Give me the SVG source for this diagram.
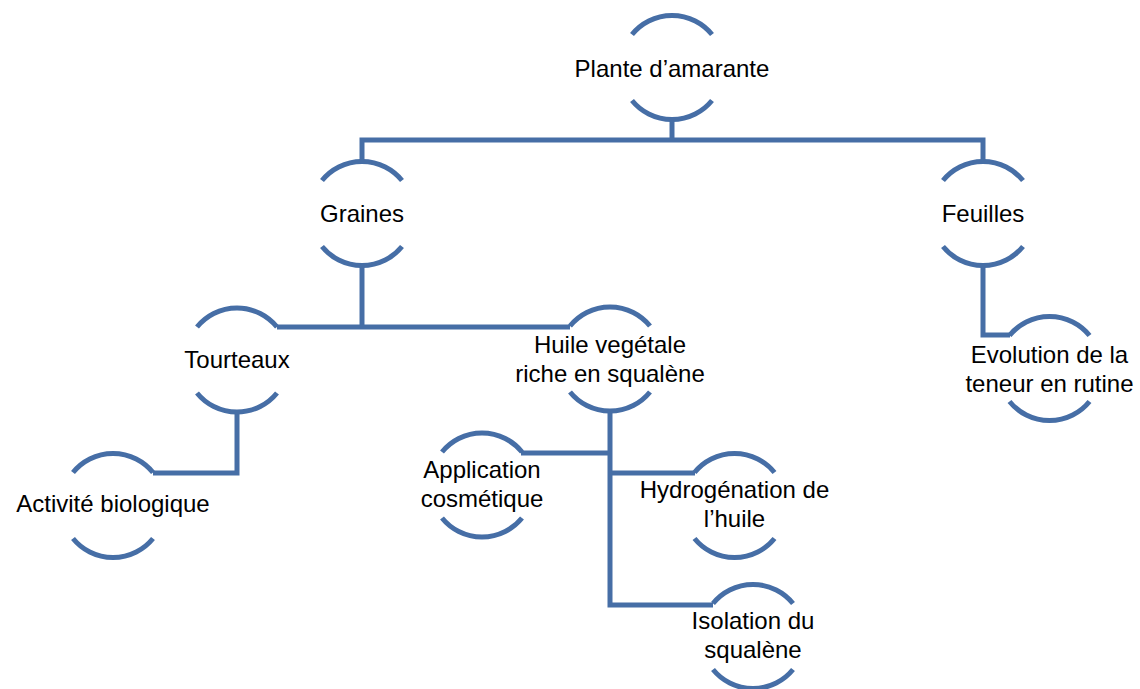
<svg xmlns="http://www.w3.org/2000/svg" xmlns:xlink="http://www.w3.org/1999/xlink" width="1140" height="689" viewBox="0 0 1140 689">
<style>
.arc{fill:none;stroke:#466EA6;stroke-width:5}
.con{fill:none;stroke:#466EA6;stroke-width:5;stroke-linejoin:miter;stroke-linecap:butt}
.lbl{font-family:"Liberation Sans",Arial,sans-serif;font-size:24px;fill:#000;text-anchor:middle}
</style>
<defs>
<g id="ring">
<path class="arc" d="M-40,-33 A51.5,51.5 0 0 1 40,-33"/>
<path class="arc" d="M-40,33 A51.5,51.5 0 0 0 40,33"/>
</g>
</defs>
<rect width="1140" height="689" fill="#fff"/>
<g id="connectors">
<polyline class="con" points="672,118 672,140"/>
<polyline class="con" points="362,162 362,140 983,140 983,162"/>
<polyline class="con" points="362,265 362,327"/>
<polyline class="con" points="277,327 570,327"/>
<polyline class="con" points="983,265 983,335 1010,335"/>
<polyline class="con" points="237,412 237,473 153,473"/>
<polyline class="con" points="610,410 610,605 713,605"/>
<polyline class="con" points="521,453 610,453"/>
<polyline class="con" points="610,473 695,473"/>
</g>
<g id="n-plante"><use xlink:href="#ring" x="672" y="67.5"/><text class="lbl" x="672" y="77">Plante d’amarante</text></g>
<g id="n-graines"><use xlink:href="#ring" x="362" y="213.5"/><text class="lbl" x="362" y="222">Graines</text></g>
<g id="n-feuilles"><use xlink:href="#ring" x="983" y="213.5"/><text class="lbl" x="983" y="222">Feuilles</text></g>
<g id="n-tourteaux"><use xlink:href="#ring" x="237" y="360"/><text class="lbl" x="237" y="368">Tourteaux</text></g>
<g id="n-huile"><use xlink:href="#ring" x="610" y="359"/><text class="lbl" x="610" y="353">Huile vegétale</text><text class="lbl" x="610" y="382">riche en squalène</text></g>
<g id="n-evolution"><use xlink:href="#ring" x="1049.5" y="368.5"/><text class="lbl" x="1049.5" y="363">Evolution de la</text><text class="lbl" x="1049.5" y="392">teneur en rutine</text></g>
<g id="n-activite"><use xlink:href="#ring" x="113" y="505.5"/><text class="lbl" x="113" y="512">Activité biologique</text></g>
<g id="n-application"><use xlink:href="#ring" x="482" y="485"/><text class="lbl" x="482" y="478">Application</text><text class="lbl" x="482" y="507">cosmétique</text></g>
<g id="n-hydrogenation"><use xlink:href="#ring" x="734.5" y="505.5"/><text class="lbl" x="734.5" y="498">Hydrogénation de</text><text class="lbl" x="734.5" y="527">l’huile</text></g>
<g id="n-isolation"><use xlink:href="#ring" x="753" y="636.5"/><text class="lbl" x="753" y="629">Isolation du</text><text class="lbl" x="753" y="658">squalène</text></g>
</svg>
